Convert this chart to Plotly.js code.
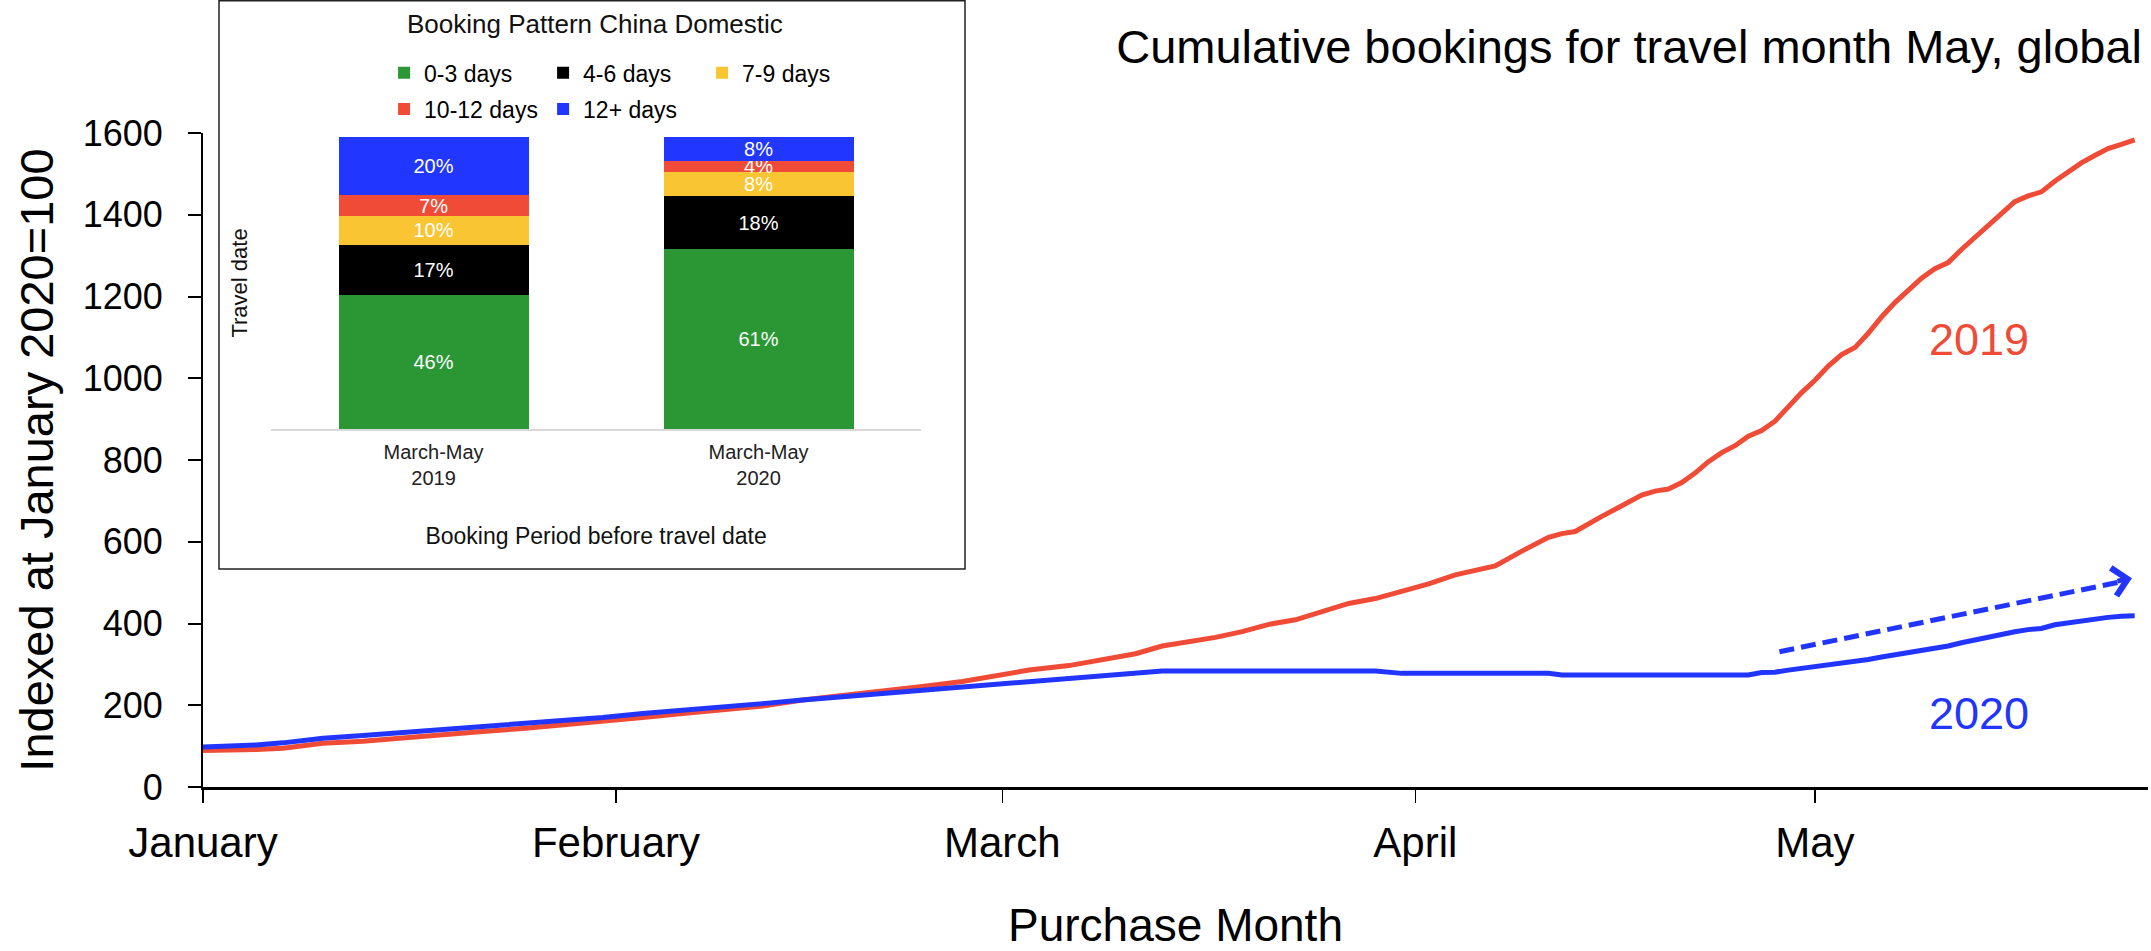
<!DOCTYPE html>
<html>
<head>
<meta charset="utf-8">
<script src="https://cdn.plot.ly/plotly-3.0.1.min.js"></script>
<style>
  html, body { margin: 0; padding: 0; background: #ffffff; }
  #chart { width: 2151px; height: 951px; }
</style>
</head>
<body>
<div id="chart"></div>
<script>
// ---------------- Data: main chart ----------------
const purchaseDates = [
  '2020-01-01','2020-01-03','2020-01-05','2020-01-07','2020-01-10','2020-01-13','2020-01-16','2020-01-19','2020-01-22','2020-01-25','2020-01-28','2020-01-31',
  '2020-02-03','2020-02-06','2020-02-09','2020-02-12','2020-02-15','2020-02-18','2020-02-21','2020-02-24','2020-02-27',
  '2020-03-01','2020-03-03','2020-03-06','2020-03-09','2020-03-11','2020-03-13','2020-03-15','2020-03-17','2020-03-19','2020-03-21','2020-03-23','2020-03-25','2020-03-27','2020-03-29','2020-03-31',
  '2020-04-02','2020-04-04','2020-04-05','2020-04-06','2020-04-07','2020-04-09','2020-04-11','2020-04-12','2020-04-13','2020-04-15','2020-04-17','2020-04-18','2020-04-19','2020-04-20','2020-04-21','2020-04-22','2020-04-23','2020-04-24','2020-04-25','2020-04-26','2020-04-27','2020-04-28','2020-04-29','2020-04-30',
  '2020-05-01','2020-05-02','2020-05-03','2020-05-04','2020-05-05','2020-05-06','2020-05-07','2020-05-08','2020-05-09','2020-05-10','2020-05-11','2020-05-12','2020-05-13','2020-05-14','2020-05-15','2020-05-16','2020-05-17','2020-05-18','2020-05-19','2020-05-20','2020-05-21','2020-05-22','2020-05-23','2020-05-24','2020-05-25'
];

const bookings2019 = [
  89, 89, 92, 95, 107, 112, 121, 129, 136, 143, 151, 161,
  170, 180, 190, 198, 213, 223, 236, 246, 258,
  274, 286, 297, 316, 326, 345, 355, 366, 380, 398, 409, 428, 449, 461, 478,
  497, 519, 527, 533, 541, 577, 611, 620, 625, 662, 698, 714, 724, 729, 745, 768, 796, 818, 835, 858, 872, 895, 930, 965,
  995, 1030, 1058, 1075, 1110, 1150, 1185, 1215, 1245, 1268, 1283, 1315, 1345, 1372, 1405, 1432, 1446, 1456, 1482, 1506, 1527, 1545, 1562, 1572, 1583
];

const bookings2020 = [
  98, 99, 103, 108, 119, 126, 133, 141, 149, 156, 163, 170,
  180, 187, 195, 204, 213, 221, 229, 236, 244,
  252, 257, 267, 273, 279, 284, 284, 284, 284, 284, 284, 284, 284, 284, 278,
  278, 278, 278, 278, 278, 278, 278, 274, 274, 274, 274, 274, 274, 274, 274, 274, 274, 274, 274, 274, 280, 281, 286, 290,
  294, 298, 302, 306, 312, 318, 323, 331, 335, 340, 345, 353, 360, 369, 374, 380, 385, 388, 397, 402, 407, 411, 415, 418, 419
];

const monthTickVals = ['2020-01-01','2020-02-01','2020-03-01','2020-04-01','2020-05-01'];
const monthTickText = ['January','February','March','April','May'];

// ---------------- Data: inset chart ----------------
const insetPeriods = ['March-May<br>2019', 'March-May<br>2020'];
const windowLabels = ['0-3 days', '4-6 days', '7-9 days', '10-12 days', '12+ days'];
const share0to3   = [46, 61];
const share4to6   = [17, 18];
const share7to9   = [10, 8];
const share10to12 = [7, 4];
const share12plus = [20, 8];

// ---------------- Styles ----------------
const RED = '#F04B36';
const BLUE = '#2135FF';
const windowColors = ['#2A9734', '#000000', '#F9C532', '#F04B36', '#2136FF'];
const FONT = 'Liberation Sans, Arial, Helvetica, sans-serif';

const shareSeries = [share0to3, share4to6, share7to9, share10to12, share12plus];
const legendOf = ['legend', 'legend', 'legend', 'legend2', 'legend2'];

const traces = [
  {
    type: 'scatter', mode: 'lines', name: '2019',
    x: purchaseDates, y: bookings2019,
    line: { color: RED, width: 5 },
    showlegend: false, hoverinfo: 'skip'
  },
  {
    type: 'scatter', mode: 'lines', name: '2020',
    x: purchaseDates, y: bookings2020,
    line: { color: BLUE, width: 5 },
    showlegend: false, hoverinfo: 'skip'
  }
];

shareSeries.forEach((vals, i) => {
  traces.push({
    type: 'bar', name: windowLabels[i],
    x: insetPeriods, y: vals,
    xaxis: 'x2', yaxis: 'y2',
    legend: legendOf[i],
    marker: { color: windowColors[i], line: { width: 0 } },
    text: vals.map(v => v + '%'),
    textposition: 'inside',
    insidetextanchor: 'middle',
    constraintext: 'none',
    textfont: { color: '#ffffff', size: 20, family: FONT },
    hoverinfo: 'skip'
  });
});

const legendBase = {
  orientation: 'h',
  xanchor: 'left', yanchor: 'middle',
  x: 0.0931,
  entrywidth: 114, entrywidthmode: 'pixels',
  font: { family: FONT, size: 23, color: '#000000' },
  bgcolor: 'rgba(0,0,0,0)',
  traceorder: 'normal',
  itemclick: false, itemdoubleclick: false
};

const layout = {
  width: 2151, height: 951,
  margin: { l: 203, r: 3, t: 133, b: 164, pad: 0 },
  paper_bgcolor: '#ffffff', plot_bgcolor: 'rgba(0,0,0,0)',
  font: { family: FONT, color: '#000000' },
  hovermode: false,
  barmode: 'stack', barnorm: 'percent', bargap: 0.415,
  title: {
    text: 'Cumulative bookings for travel month May, global',
    font: { family: FONT, size: 47, color: '#000000' },
    xref: 'container', x: 2142 / 2151, xanchor: 'right',
    yref: 'container', y: 1 - 47 / 951, yanchor: 'middle'
  },
  xaxis: {
    type: 'date',
    range: ['2020-01-01', '2020-05-26'],
    tickmode: 'array', tickvals: monthTickVals, ticktext: monthTickText,
    ticks: 'outside', ticklen: 13, tickwidth: 1.5, tickcolor: '#000000',
    ticklabelstandoff: 4,
    tickfont: { family: FONT, size: 42, color: '#000000' },
    showline: true, linecolor: '#000000', linewidth: 3,
    showgrid: false, zeroline: false, fixedrange: true,
    title: { text: 'Purchase Month', font: { family: FONT, size: 46, color: '#000000' }, standoff: 55 }
  },
  yaxis: {
    range: [0, 1600], dtick: 200, tick0: 0,
    ticks: 'outside', ticklen: 13, tickwidth: 2, tickcolor: '#000000',
    ticklabelstandoff: 18,
    tickfont: { family: FONT, size: 36, color: '#000000' },
    showline: true, linecolor: '#000000', linewidth: 2,
    showgrid: false, zeroline: false, fixedrange: true,
    title: { text: 'Indexed at January 2020=100', font: { family: FONT, size: 47, color: '#000000' }, standoff: 14 }
  },
  xaxis2: {
    domain: [0.035, 0.3692], anchor: 'y2', type: 'category',
    showline: true, linecolor: '#d9d9d9', linewidth: 2,
    ticks: '', showgrid: false, zeroline: false, fixedrange: true,
    ticklabelstandoff: 4,
    tickfont: { family: FONT, size: 20, color: '#222222' },
    title: { text: 'Booking Period before travel date', font: { family: FONT, size: 23, color: '#111111' }, standoff: 40 }
  },
  yaxis2: {
    domain: [0.5474, 0.9939], anchor: 'x2', range: [0, 100],
    showticklabels: false, showline: false, showgrid: false, zeroline: false, ticks: '', fixedrange: true,
    title: { text: 'Travel date', font: { family: FONT, size: 22, color: '#111111' }, standoff: 16 }
  },
  legend: Object.assign({}, legendBase, { y: (787 - 72.7) / 654 }),
  legend2: Object.assign({}, legendBase, { y: (787 - 109) / 654 }),
  shapes: [
    {
      type: 'rect', xref: 'paper', yref: 'paper', layer: 'below',
      x0: (219 - 203) / 1945, x1: (965 - 203) / 1945,
      y0: (787 - 569) / 654, y1: (787 - 0.7) / 654,
      line: { color: '#222222', width: 1.5 }, fillcolor: '#ffffff'
    },
    {
      type: 'line', xref: 'x', yref: 'y',
      x0: '2020-04-28 08:00', y0: 331,
      x1: '2020-05-24 10:00', y1: 505,
      line: { color: BLUE, width: 5, dash: '15px,7px' }
    }
  ],
  annotations: [
    {
      xref: 'x', yref: 'y', x: '2020-05-24 19:00', y: 511,
      axref: 'pixel', ayref: 'pixel', ax: -16, ay: 3.3,
      showarrow: true, arrowhead: 4, arrowsize: 1.1, arrowwidth: 5, arrowcolor: BLUE,
      standoff: 0, text: ''
    },
    {
      xref: 'x', yref: 'y', x: '2020-05-13 08:00', y: 1094,
      text: '2019', showarrow: false, xanchor: 'center',
      font: { family: FONT, size: 45, color: RED }
    },
    {
      xref: 'x', yref: 'y', x: '2020-05-13 08:00', y: 180,
      text: '2020', showarrow: false, xanchor: 'center',
      font: { family: FONT, size: 45, color: BLUE }
    },
    {
      xref: 'paper', yref: 'paper',
      x: (595 - 203) / 1945, y: (787 - 23.6) / 654,
      xanchor: 'center', yanchor: 'middle',
      text: 'Booking Pattern China Domestic', showarrow: false,
      font: { family: FONT, size: 26, color: '#111111' }
    }
  ]
};

Plotly.newPlot('chart', traces, layout, { staticPlot: true, displayModeBar: false });
</script>
</body>
</html>
